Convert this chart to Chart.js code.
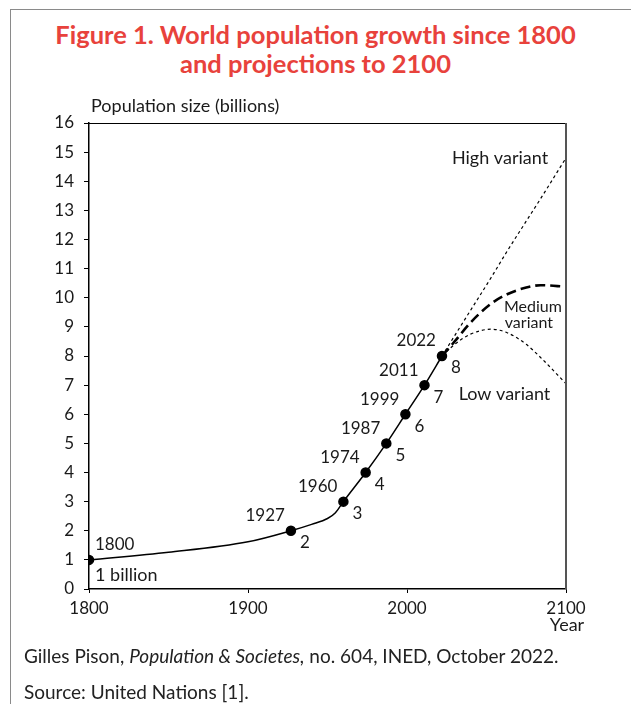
<!DOCTYPE html>
<html>
<head>
<meta charset="utf-8">
<script src="https://cdn.jsdelivr.net/npm/chart.js@4"></script>
<style>
  body { margin: 0; background: #fff; font-family: Lato, sans-serif; color: #1a1a1a; }
  #frame { position: absolute; left: 10px; top: 9px; width: 700px; height: 800px; border: 1px solid #8a8a8a; }
  #title { position: absolute; left: 0; top: 20px; width: 631px; text-align: center; color: #e8423c;
           font-weight: bold; font-size: 25.5px; line-height: 29px; }
  #wrap { position: absolute; left: 0; top: 0; width: 631px; height: 704px; }
  .foot { position: absolute; left: 24px; font-size: 19px; color: #222; }
</style>
</head>
<body>
<div id="frame"></div>
<div id="title">Figure 1. World population growth since 1800<br>and projections to 2100</div>
<div id="wrap"><canvas id="popChart" width="631" height="704"></canvas></div>
<div class="foot" style="top:644px">Gilles Pison, <i>Population &amp; Societes,</i> no. 604, INED, October 2022.</div>
<div class="foot" style="top:680px">Source: United Nations [1].</div>
<script>
// observed population (billions), milestones get a dot
const pastYears = [1800, 1850, 1900, 1927, 1940, 1950, 1955, 1960, 1974, 1987, 1999, 2011, 2022];
const pastPop   = [1, 1.26, 1.62, 2, 2.22, 2.42, 2.62, 3, 4, 5, 6, 7, 8];
const milestones = [1800, 1927, 1960, 1974, 1987, 1999, 2011, 2022];

// UN projections
const projYears = [2022, 2030, 2040, 2053, 2063, 2075, 2084, 2100];
const highPop   = [8, 8.7, 9.57, 10.7, 11.6, 12.63, 13.4, 14.8];
const mediumPop = [8, 8.5, 9.15, 9.8, 10.12, 10.35, 10.43, 10.38];
const lowPop    = [8, 8.4, 8.75, 8.92, 8.8, 8.4, 7.95, 7.05];

const xTicks = [1800, 1900, 2000, 2100];

function pts(xs, ys) { return xs.map((x, i) => ({ x: x, y: ys[i] })); }

const labelPlugin = {
  id: 'labels',
  afterDatasetsDraw(chart) {
    const ctx = chart.ctx;
    const xs = chart.scales.x, ys = chart.scales.y;
    const a = chart.chartArea;
    ctx.save();
    // top and right frame of the plot
    ctx.strokeStyle = '#000';
    ctx.lineWidth = 1;
    ctx.beginPath();
    ctx.moveTo(a.left, a.top + 0.5);
    ctx.lineTo(a.right, a.top + 0.5);
    ctx.stroke();
    ctx.strokeStyle = '#555';
    ctx.lineWidth = 2;
    ctx.beginPath();
    ctx.moveTo(a.right, a.top);
    ctx.lineTo(a.right, a.bottom);
    ctx.stroke();

    ctx.fillStyle = '#1a1a1a';
    ctx.font = '17px Lato';
    ctx.textBaseline = 'middle';
    // year above-left, value below-right
    milestones.forEach(yr => {
      const v = pastPop[pastYears.indexOf(yr)];
      const px = xs.getPixelForValue(yr), py = ys.getPixelForValue(v);
      if (yr === 1800) {
        ctx.textAlign = 'left';
        ctx.fillText('1800', px + 6, py - 15);
        ctx.font = '18px Lato';
        ctx.fillText('1 billion', px + 6, py + 15);
        ctx.font = '17px Lato';
        return;
      }
      ctx.textAlign = 'right';
      ctx.fillText(String(yr), px - 6, py - 15);
      ctx.textAlign = 'center';
      ctx.fillText(String(v), px + 14, py + 12);
    });
    ctx.font = '18px Lato';
    ctx.textAlign = 'center';
    ctx.fillText('High variant', xs.getPixelForValue(2058.5), ys.getPixelForValue(14.8));
    ctx.fillText('Low variant', xs.getPixelForValue(2061.3), ys.getPixelForValue(6.7));
    ctx.font = '16px Lato';
    ctx.textAlign = 'left';
    ctx.fillText('Medium', xs.getPixelForValue(2061), ys.getPixelForValue(9.7));
    ctx.fillText('variant', xs.getPixelForValue(2061.5), ys.getPixelForValue(9.15));
    ctx.font = '18px Lato';
    ctx.fillText('Population size (billions)', a.left + 2, a.top - 17);
    ctx.textAlign = 'center';
    ctx.fillText('Year', a.right + 1, a.bottom + 36);
    ctx.restore();
  }
};

new Chart(document.getElementById('popChart').getContext('2d'), {
  type: 'line',
  data: {
    datasets: [
      {
        label: 'Observed',
        data: pts(pastYears, pastPop),
        borderColor: '#000',
        backgroundColor: '#000',
        borderWidth: 1.5,
        cubicInterpolationMode: 'monotone',
        pointRadius: pastYears.map(y => milestones.includes(y) ? 4.5 : 0),
        pointHoverRadius: 0
      },
      {
        label: 'High variant',
        data: pts(projYears, highPop),
        borderColor: '#000',
        borderWidth: 1.2,
        borderDash: [3, 3],
        cubicInterpolationMode: 'monotone',
        pointRadius: 0
      },
      {
        label: 'Medium variant',
        data: pts(projYears, mediumPop),
        borderColor: '#000',
        borderWidth: 2.6,
        borderDash: [10, 5],
        cubicInterpolationMode: 'monotone',
        pointRadius: 0
      },
      {
        label: 'Low variant',
        data: pts(projYears, lowPop),
        borderColor: '#000',
        borderWidth: 1.2,
        borderDash: [3, 3],
        cubicInterpolationMode: 'monotone',
        pointRadius: 0
      }
    ]
  },
  options: {
    responsive: false,
    animation: false,
    layout: { padding: { left: 0, top: 123, right: 65, bottom: 75 } },
    plugins: { legend: { display: false }, tooltip: { enabled: false } },
    scales: {
      x: {
        type: 'linear',
        min: 1800, max: 2100,
        afterBuildTicks: s => { s.ticks = xTicks.map(v => ({ value: v })); },
        afterFit: s => { s.height = 40; },
        grid: { drawOnChartArea: false, tickLength: 4, color: '#000' },
        border: { color: '#000', width: 1.5 },
        ticks: { color: '#1a1a1a', font: { family: 'Lato', size: 17 }, padding: 5, maxRotation: 0,
                 callback: v => String(v) }
      },
      y: {
        min: 0, max: 16,
        afterFit: s => { s.width = 89; },
        grid: { drawOnChartArea: false, tickLength: 5, color: '#000' },
        border: { color: '#000', width: 1.5 },
        ticks: { stepSize: 1, color: '#1a1a1a', font: { family: 'Lato', size: 17 }, padding: 10 }
      }
    }
  },
  plugins: [labelPlugin]
});
</script>
</body>
</html>
